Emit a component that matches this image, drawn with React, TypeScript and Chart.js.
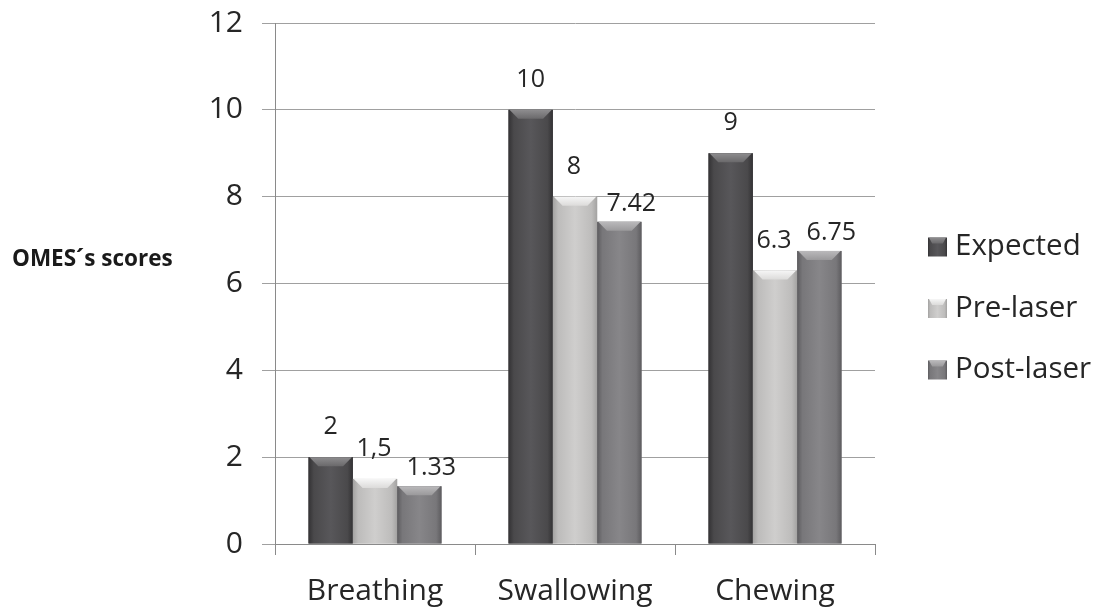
import React, { useEffect, useRef } from "react";
import { Chart, registerables } from "chart.js";

Chart.register(...registerables);

// ---- data ----
const categories = ["Breathing", "Swallowing", "Chewing"];
const seriesNames = ["Expected", "Pre-laser", "Post-laser"];
const expected = [2, 10, 9];
const preLaser = [1.5, 8, 6.3];
const postLaser = [1.33, 7.42, 6.75];
const yMin = 0;
const yMax = 12;
const yStep = 2;
const axisTitle = "OMES´s scores";
// value labels printed with a decimal comma, as [seriesIndex, categoryIndex]
const commaDecimalLabels = [[1, 0]];

// ---- styling ----
const FONT = "'Open Sans', 'DejaVu Sans', sans-serif";
const TEXT = "#262626";
const GRID = "#a0a0a0";
const AXIS = "#8a8a8a";

const palette = [
  { base: "#4a494b", edge: "#333234", shine: "#58575a", cap: "#8e8d8f", capLow: "#6a696b" },
  { base: "#bdbcbb", edge: "#a3a2a1", shine: "#cfcecd", cap: "#f6f6f6", capLow: "#dcdbda" },
  { base: "#78777a", edge: "#5d5c5f", shine: "#878689", cap: "#bab9bb", capLow: "#9a999b" },
];

// per-series offsets of the value labels above the bar top
const labelOffsets = [
  { dx: 0, dy: 30 },
  { dx: -1, dy: 30 },
  { dx: 12, dy: 18 },
];

function formatValue(v: number, ds: number, idx: number): string {
  const s = String(v);
  const comma = commaDecimalLabels.some(([d, i]) => d === ds && i === idx);
  return comma ? s.replace(".", ",") : s;
}

// draws a bar face with a horizontal bevel gradient and a chevron-shaped top cap
function drawBevelBox(
  ctx: CanvasRenderingContext2D,
  left: number,
  top: number,
  w: number,
  h: number,
  c: (typeof palette)[number],
  capH: number
) {
  const g = ctx.createLinearGradient(left, 0, left + w, 0);
  g.addColorStop(0, c.edge);
  g.addColorStop(0.12, c.base);
  g.addColorStop(0.5, c.shine);
  g.addColorStop(0.88, c.base);
  g.addColorStop(1, c.edge);
  ctx.fillStyle = g;
  ctx.fillRect(left, top, w, h);

  const ch = Math.min(capH, h);
  const inset = w * 0.22;
  const cg = ctx.createLinearGradient(0, top, 0, top + ch);
  cg.addColorStop(0, c.cap);
  cg.addColorStop(1, c.capLow);
  ctx.beginPath();
  ctx.moveTo(left + 1, top);
  ctx.lineTo(left + w - 1, top);
  ctx.lineTo(left + w - inset, top + ch);
  ctx.lineTo(left + inset, top + ch);
  ctx.closePath();
  ctx.fillStyle = cg;
  ctx.fill();
}

const bevelBars = {
  id: "bevelBars",
  afterDatasetsDraw(chart: any) {
    const ctx: CanvasRenderingContext2D = chart.ctx;
    ctx.save();
    chart.data.datasets.forEach((_: any, di: number) => {
      const meta = chart.getDatasetMeta(di);
      meta.data.forEach((el: any) => {
        const { x, y, width, base } = el.getProps(["x", "y", "width", "base"], true);
        drawBevelBox(ctx, x - width / 2, y, width, base - y, palette[di], 9);
      });
    });
    ctx.restore();
  },
};

const valueLabels = {
  id: "valueLabels",
  afterDatasetsDraw(chart: any) {
    const ctx: CanvasRenderingContext2D = chart.ctx;
    ctx.save();
    ctx.font = `25px ${FONT}`;
    ctx.fillStyle = TEXT;
    ctx.textAlign = "center";
    ctx.textBaseline = "middle";
    chart.data.datasets.forEach((ds: any, di: number) => {
      const meta = chart.getDatasetMeta(di);
      const off = labelOffsets[di];
      meta.data.forEach((el: any, i: number) => {
        const { x, y } = el.getProps(["x", "y"], true);
        ctx.fillText(formatValue(ds.data[i], di, i), x + off.dx, y - off.dy);
      });
    });
    ctx.restore();
  },
};

const sideLegend = {
  id: "sideLegend",
  afterDraw(chart: any) {
    const ctx: CanvasRenderingContext2D = chart.ctx;
    const area = chart.chartArea;
    const x0 = area.right + 53;
    const y0 = area.top + 224;
    const gap = 61.5;
    const box = 19;
    ctx.save();
    ctx.font = `29.5px ${FONT}`;
    ctx.textAlign = "left";
    ctx.textBaseline = "middle";
    chart.data.datasets.forEach((ds: any, di: number) => {
      const cy = y0 + di * gap;
      drawBevelBox(ctx, x0, cy - box / 2, box, box, palette[di], 6);
      ctx.fillStyle = TEXT;
      ctx.fillText(ds.label, x0 + box + 8, cy);
    });
    ctx.restore();
  },
};

const sideTitle = {
  id: "sideTitle",
  afterDraw(chart: any) {
    const ctx: CanvasRenderingContext2D = chart.ctx;
    const area = chart.chartArea;
    ctx.save();
    ctx.font = `bold 22.5px ${FONT}`;
    ctx.fillStyle = "#1a1a1a";
    ctx.textAlign = "left";
    ctx.textBaseline = "middle";
    ctx.fillText(axisTitle, 12, area.top + 237);
    ctx.restore();
  },
};

export default function App() {
  const canvasRef = useRef<HTMLCanvasElement | null>(null);

  useEffect(() => {
    if (!canvasRef.current) return;
    const seriesValues = [expected, preLaser, postLaser];
    const chart = new Chart(canvasRef.current, {
      type: "bar",
      data: {
        labels: categories,
        datasets: seriesNames.map((name, i) => ({
          label: name,
          data: seriesValues[i],
          backgroundColor: palette[i].base,
          borderWidth: 0,
          categoryPercentage: 0.665,
          barPercentage: 1,
        })),
      },
      options: {
        animation: false,
        responsive: true,
        maintainAspectRatio: false,
        layout: { padding: { left: 0, right: 231, top: 23, bottom: 0 } },
        plugins: {
          legend: { display: false },
          tooltip: { enabled: false },
          title: { display: false },
        },
        scales: {
          x: {
            offset: true,
            grid: {
              display: true,
              drawOnChartArea: false,
              offset: true,
              tickLength: 11,
              color: AXIS,
            },
            border: { display: true, color: AXIS },
            ticks: {
              color: TEXT,
              font: { family: FONT, size: 30 },
              padding: 18,
            },
            afterFit(scale: any) {
              scale.height = 64;
              scale.paddingLeft = 0;
              scale.paddingRight = 0;
            },
          },
          y: {
            min: yMin,
            max: yMax,
            grid: { color: GRID, tickLength: 13 },
            border: { display: true, color: AXIS },
            ticks: {
              stepSize: yStep,
              color: TEXT,
              font: { family: FONT, size: 30 },
              padding: 19,
            },
            afterFit(scale: any) {
              scale.width = 275;
              scale.paddingTop = 0;
              scale.paddingBottom = 0;
            },
          },
        },
      },
      plugins: [bevelBars, valueLabels, sideLegend, sideTitle],
    });
    return () => chart.destroy();
  }, []);

  return (
    <div
      style={{
        position: "fixed",
        left: 0,
        top: 0,
        width: 1106,
        height: 608,
        background: "#ffffff",
      }}
    >
      <canvas ref={canvasRef} />
    </div>
  );
}
